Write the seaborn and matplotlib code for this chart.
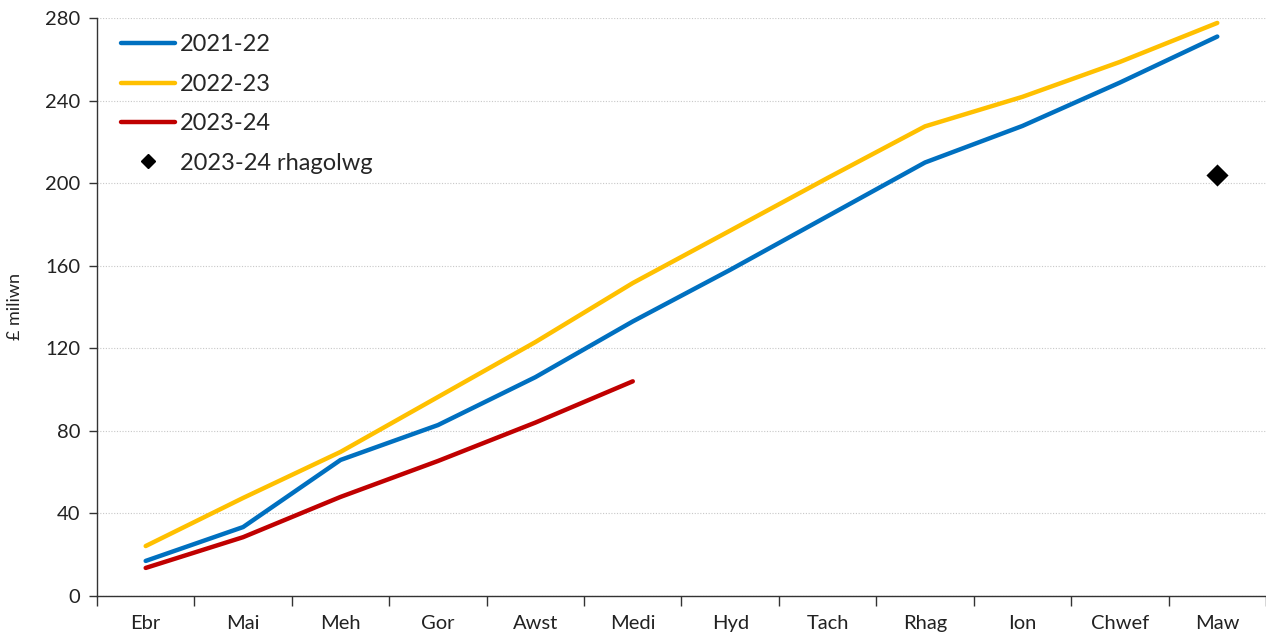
import numpy as np
import pandas as pd
import matplotlib
matplotlib.use("Agg")
import matplotlib.pyplot as plt
from matplotlib.ticker import FixedLocator, NullFormatter
from matplotlib.lines import Line2D
import seaborn as sns

# Data (£ million, cumulative)
months = ["Ebr", "Mai", "Meh", "Gor", "Awst", "Medi", "Hyd", "Tach", "Rhag", "Ion", "Chwef", "Maw"]
vals_2122 = [17, 33.4, 65.9, 82.8, 106, 133, 158, 184, 210, 227.7, 248.7, 271]
vals_2223 = [24.2, 47.5, 69.8, 96.4, 123, 151.6, 177, 202.5, 227.5, 241.8, 258.7, 277.6]
vals_2324 = [13.6, 28.5, 48, 65.4, 84, 104]
forecast_month = "Maw"
forecast_val = 204

sns.set_theme(style="white")
plt.rcParams["font.family"] = ["Lato", "DejaVu Sans"]

frames = []
for label, vals in [("2021-22", vals_2122), ("2022-23", vals_2223), ("2023-24", vals_2324)]:
    frames.append(pd.DataFrame({"pos": np.arange(len(vals)), "value": vals, "series": label}))
df = pd.concat(frames, ignore_index=True)
fc = pd.DataFrame({"pos": [months.index(forecast_month)], "value": [forecast_val],
                   "series": ["2023-24 rhagolwg"]})

palette = {"2021-22": "#0070C0", "2022-23": "#FFC000", "2023-24": "#C00000"}

fig = plt.figure(figsize=(12.66, 6.35), dpi=100)
ax = fig.add_axes([0.0766, 0.0614, 0.9234, 0.9103])

sns.lineplot(data=df, x="pos", y="value", hue="series", palette=palette,
             linewidth=3.2, ax=ax, legend=False, solid_capstyle="round")
sns.scatterplot(data=fc, x="pos", y="value", marker="D", color="black", s=150,
                ax=ax, legend=False, zorder=5)

# legend
handles = [Line2D([], [], color=palette[k], lw=3.2, solid_capstyle="round") for k in palette]
handles.append(Line2D([], [], color="black", marker="D", ls="none", markersize=7))
ax.legend(handles, list(palette.keys()) + ["2023-24 rhagolwg"], loc="upper left",
          frameon=False, fontsize=17, handlelength=2.3, handletextpad=0.2,
          labelspacing=0.78, bbox_to_anchor=(0.006, 1.0), borderaxespad=0.3)

ax.set_xlim(-0.5, len(months) - 0.5)
ax.set_ylim(0, 280)
ax.set_yticks(np.arange(0, 281, 40))
ax.xaxis.set_major_locator(FixedLocator(np.arange(-0.5, len(months), 1.0)))
ax.xaxis.set_major_formatter(NullFormatter())
ax.xaxis.set_minor_locator(FixedLocator(np.arange(len(months))))
ax.set_xticklabels(months, minor=True)
ax.tick_params(axis="x", which="major", length=7, width=1, color="#333333", direction="out", bottom=True)
ax.tick_params(axis="x", which="minor", length=0, labelsize=14.5, pad=14, colors="#222222")
ax.tick_params(axis="y", length=6, width=1, color="#333333", direction="out", left=True,
               labelsize=14.5, colors="#222222", pad=6)

ax.grid(axis="y", color="#c8c8c8", linestyle=(0, (1, 1.5)), linewidth=0.8)
ax.set_axisbelow(True)
for s in ["top", "right"]:
    ax.spines[s].set_visible(False)
for s in ["left", "bottom"]:
    ax.spines[s].set_color("#333333")
    ax.spines[s].set_linewidth(1)

ax.set_xlabel("")
ax.set_ylabel("£ miliwn", fontsize=13, color="#222222", labelpad=16)

fig.savefig("out.png", dpi=100)
